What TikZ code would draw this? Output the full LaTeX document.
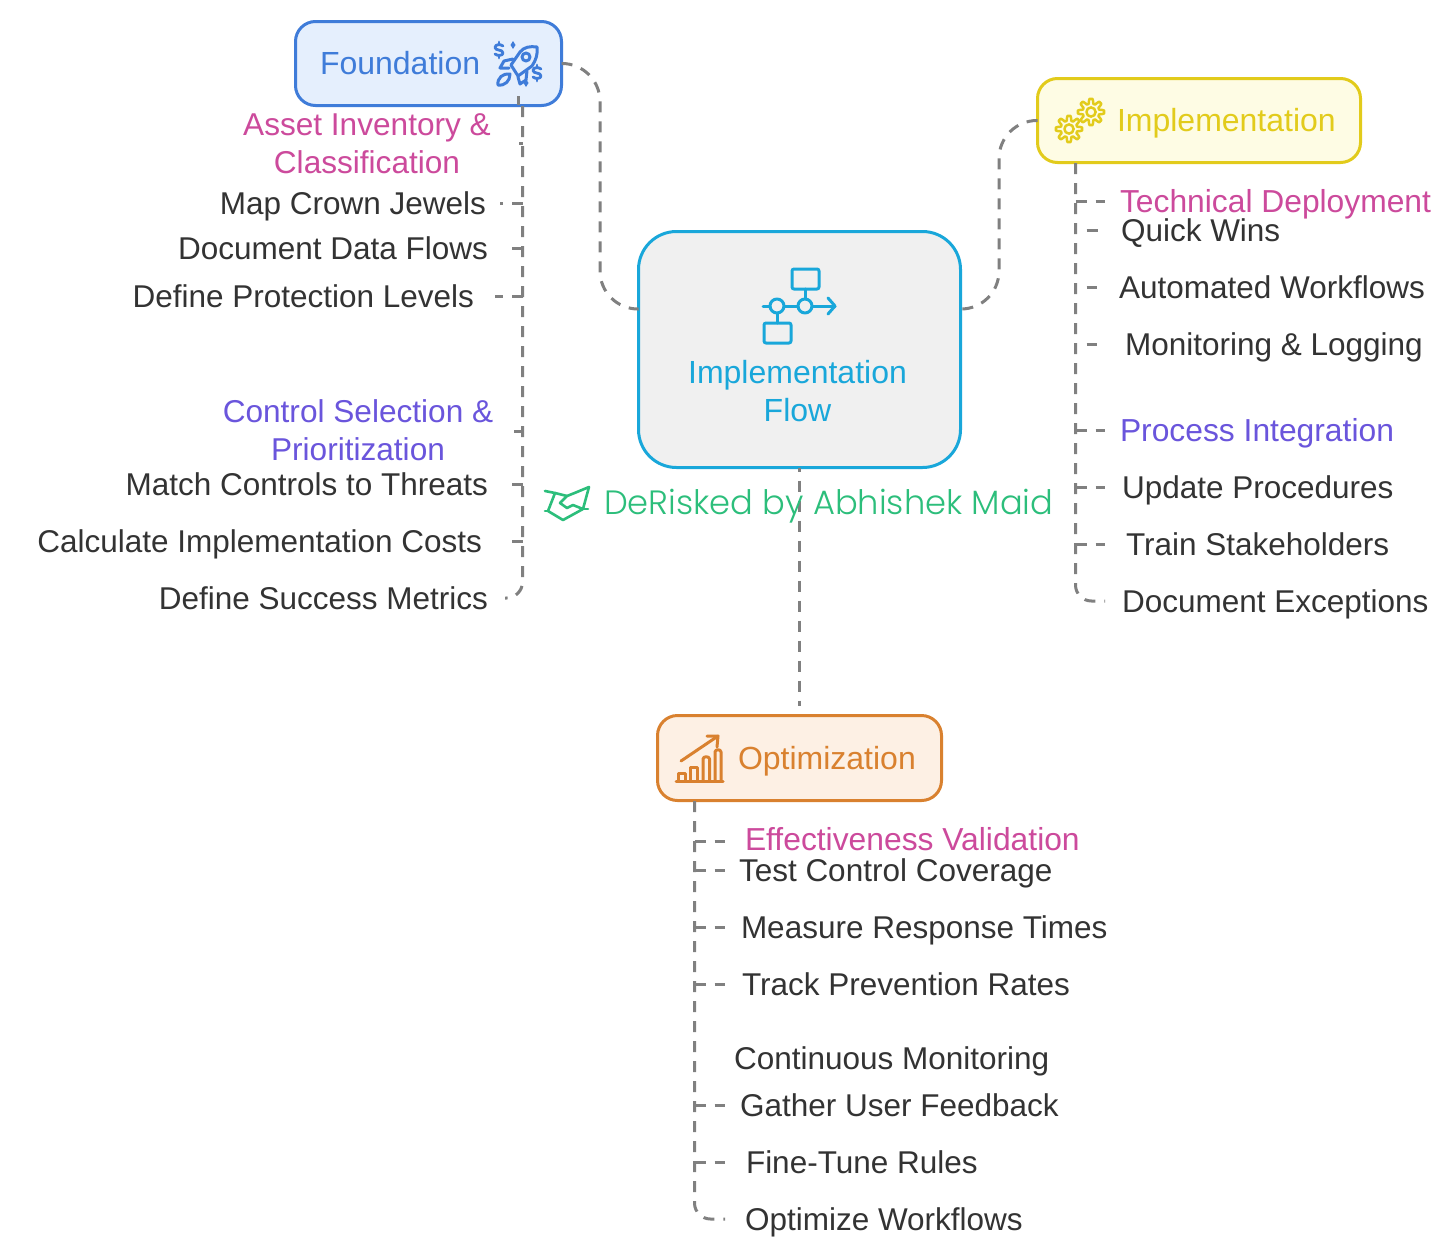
\documentclass[tikz,border=0pt]{standalone}
\usepackage{fontspec}
\setmainfont{Liberation Sans}
\newfontfamily\markfont{Poppins}[UprightFont=* Light]
\usetikzlibrary{arrows.meta}
\definecolor{inkdark}{HTML}{333333}
\definecolor{inkpink}{HTML}{CC4A9C}
\definecolor{inkviolet}{HTML}{6A55DC}
\definecolor{linegray}{HTML}{808080}
\definecolor{foundblue}{HTML}{3F7CD9}
\definecolor{foundfill}{HTML}{E5EFFD}
\definecolor{implyellow}{HTML}{E2CB1B}
\definecolor{implfill}{HTML}{FEFCE4}
\definecolor{flowcyan}{HTML}{19A7DA}
\definecolor{flowfill}{HTML}{F0F0F0}
\definecolor{optorange}{HTML}{D9812F}
\definecolor{optfill}{HTML}{FDF0E4}
\definecolor{markgreen}{HTML}{2CBE7B}
\tikzset{
  boxnode/.style={draw,line width=3,rounded corners=20,inner sep=0,outer sep=0},
  itemtext/.style={inner sep=0,outer sep=0,text=inkdark,font=\fontsize{31.5}{37}\selectfont,text height=24,text depth=1.5},
  headtext/.style={itemtext,text=#1,font=\fontsize{31.8}{37}\selectfont},
  boxtext/.style={itemtext,text=#1,font=\fontsize{32}{37}\selectfont},
  twolines/.style={inner sep=0,text=#1,align=center,font=\fontsize{31.6}{38}\selectfont},
  link/.style={draw=linegray,line width=3,dash pattern=on 11 off 9},
  icon/.style={line width=3,line join=round,line cap=round}
}
\newcommand{\gearicon}[3]{%
  \draw[icon,#3,line width=2.5] plot[domain=0:360,samples=145] ({#1+(10.8+2.4*min(1,max(-1,1.6*cos(8*\x))))*cos(\x)},{#2+(10.8+2.4*min(1,max(-1,1.6*cos(8*\x))))*sin(\x)}) -- cycle;
  \draw[icon,#3,line width=2.5] (#1,#2) circle (4.6);
}
\newcommand{\dollaricon}[2]{%
  \draw[icon,foundblue,line width=2.8] (#1+4,#2-4) .. controls (#1+2,#2-6) and (#1-4,#2-6) .. (#1-4,#2-2.5) .. controls (#1-4,#2+1) and (#1+4,#2-1) .. (#1+4,#2+3) .. controls (#1+4,#2+6) and (#1-2,#2+6) .. (#1-4,#2+4);
  \draw[icon,foundblue,line width=2.8] (#1,#2-8) -- (#1,#2-6) (#1,#2+6) -- (#1,#2+8);
}
\begin{document}
\begin{tikzpicture}[x=1pt,y=-1pt]
\useasboundingbox[fill=white] (0,0) rectangle (1456,1258);
% boxes
\node[boxnode,fill=foundfill,draw=foundblue,minimum width=266,minimum height=84] (found) at (428.5,63.5) {};
\node[boxnode,fill=implfill,draw=implyellow,minimum width=323,minimum height=84] (impl) at (1199,120.5) {};
\node[boxnode,fill=flowfill,draw=flowcyan,rounded corners=38,minimum width=322,minimum height=236] (central) at (799.5,349.5) {};
\node[boxnode,fill=optfill,draw=optorange,minimum width=284,minimum height=85] (optim) at (799.5,758) {};
\node[boxtext=foundblue,anchor=west] (foundlabel) at (320,63) {Foundation};
\node[boxtext=implyellow,anchor=west] (impllabel) at (1117,120) {Implementation};
\node[boxtext=optorange,anchor=west] (optimlabel) at (738,758) {Optimization};
\node[twolines=flowcyan,font=\fontsize{32}{37.5}\selectfont] (centrallabel) at (797.5,391) {Implementation\\Flow};
% left list
\node[twolines=inkpink] (assets) at (367,144) {Asset Inventory \&\\Classification};
\node[itemtext,anchor=east] (jewels) at (486,203) {Map Crown Jewels};
\node[itemtext,anchor=east] (dataflows) at (488,248) {Document Data Flows};
\node[itemtext,anchor=east] (levels) at (474,296) {Define Protection Levels};
\node[twolines=inkviolet] (controls) at (358,430) {Control Selection \&\\Prioritization};
\node[itemtext,anchor=east] (threats) at (488,484) {Match Controls to Threats};
\node[itemtext,anchor=east] (costs) at (482,541) {Calculate Implementation Costs};
\node[itemtext,anchor=east] (metrics) at (488,598) {Define Success Metrics};
% right list
\node[headtext=inkpink,anchor=west] (deploy) at (1120,201) {Technical Deployment};
\node[itemtext,anchor=west] (wins) at (1121,230) {Quick Wins};
\node[itemtext,anchor=west] (workflows) at (1119,287) {Automated Workflows};
\node[itemtext,anchor=west] (logging) at (1125,344) {Monitoring \& Logging};
\node[headtext=inkviolet,anchor=west] (process) at (1120,430) {Process Integration};
\node[itemtext,anchor=west] (procedures) at (1122,487) {Update Procedures};
\node[itemtext,anchor=west] (stakeholders) at (1126,544) {Train Stakeholders};
\node[itemtext,anchor=west] (exceptions) at (1122,601) {Document Exceptions};
% bottom list
\node[headtext=inkpink,anchor=west] (validate) at (745,839) {Effectiveness Validation};
\node[itemtext,anchor=west] (coverage) at (739,870) {Test Control Coverage};
\node[itemtext,anchor=west] (response) at (741,927) {Measure Response Times};
\node[itemtext,anchor=west] (prevention) at (742,984) {Track Prevention Rates};
\node[itemtext,anchor=west] (monitor) at (734,1058) {Continuous Monitoring};
\node[itemtext,anchor=west] (feedback) at (740,1105) {Gather User Feedback};
\node[itemtext,anchor=west] (rules) at (746,1162) {Fine-Tune Rules};
\node[itemtext,anchor=west] (optflows) at (745,1219) {Optimize Workflows};
% connectors between boxes
\coordinate (leftelbow) at (600,309);
\coordinate (rightelbow) at (999,309);
\coordinate (optimtop) at (799.5,706);
\draw[link,rounded corners=38] (found.east) -- (leftelbow |- found.east) -- (leftelbow) -- (central.west |- leftelbow);
\draw[link,rounded corners=38] (impl.west) -- (rightelbow |- impl.west) -- (rightelbow) -- (central.east |- rightelbow);
\draw[link,dash phase=7] (central.south -| optimtop) -- (optimtop);
% left trunk
\coordinate (leftbus) at (522.5,106);
\coordinate (rightbus) at (1075.5,163);
\coordinate (bottombus) at (694.5,801);
\draw[link,dash pattern=on 9 off 0] (518.5,96) -- (518.5,105);
\draw[link,rounded corners=16] (leftbus) -- (leftbus |- metrics) -- ([xshift=17]metrics.east);
\draw[link] (leftbus |- assets) ++(0,-1) -- ++(-4,0);
\draw[link,shorten >=14] (leftbus |- jewels) -- (jewels.east);
\draw[link,shorten >=17] (leftbus |- dataflows) -- (dataflows.east);
\draw[link,shorten >=21] (leftbus |- levels) -- (levels.east);
\draw[link] (leftbus |- controls) ++(0,1) -- ++(-9,0);
\draw[link,shorten >=22] (leftbus |- threats) -- (threats.east);
\draw[link,shorten >=29] (leftbus |- costs) -- (costs.east);
% right trunk
\draw[link,rounded corners=16] (rightbus) -- (rightbus |- exceptions) -- ([xshift=-17]exceptions.west);
\draw[link,shorten >=15] (rightbus |- deploy) -- (deploy.west);
\draw[link,shorten <=11,shorten >=23] (rightbus |- wins) -- (wins.west);
\draw[link,shorten <=11,shorten >=22] (rightbus |- workflows) -- (workflows.west);
\draw[link,shorten <=11,shorten >=28] (rightbus |- logging) -- (logging.west);
\draw[link,shorten >=15] (rightbus |- process) -- (process.west);
\draw[link,shorten >=17] (rightbus |- procedures) -- (procedures.west);
\draw[link,shorten >=21] (rightbus |- stakeholders) -- (stakeholders.west);
% bottom trunk
\draw[link,rounded corners=16] (bottombus) -- (bottombus |- optflows) -- ([xshift=-20]optflows.west);
\draw[link] (bottombus |- validate) ++(0,2) -- ++(30,0);
\draw[link,shorten >=14] (bottombus |- coverage) -- (coverage.west);
\draw[link,shorten >=16] (bottombus |- response) -- (response.west);
\draw[link,shorten >=17] (bottombus |- prevention) -- (prevention.west);
\draw[link,shorten >=15] (bottombus |- feedback) -- (feedback.west);
\draw[link,shorten >=21] (bottombus |- rules) -- (rules.west);
% foundation icon, rocket
\begin{scope}[icon,draw=foundblue]
  \draw (537,47) .. controls (530,46) and (524,47) .. (520,52) -- (511,65) -- (518,76) -- (532,66) .. controls (536,60) and (538,54) .. (537,47) -- cycle;
  \draw (526,57) circle (4);
  \draw (513,59) -- (504,61) -- (500,68) -- (509,68);
  \draw (527,71) -- (526,80) -- (520,84) -- (518,77);
  \draw (510,74) .. controls (503,73) and (497,78) .. (498,85) .. controls (505,86) and (510,81) .. (510,74) -- cycle;
  \fill[foundblue] (513,41) -- (515.5,45) -- (513,49) -- (510.5,45) -- cycle;
  \fill[foundblue] (526,79) ++(0,0) -- ++(2.5,4) -- ++(-2.5,4) -- ++(-2.5,-4) -- cycle;
\end{scope}
\dollaricon{499}{50}
\dollaricon{537}{73}
% implementation icon, gears
\gearicon{1091}{112}{implyellow}
\gearicon{1069}{129}{implyellow}
% central icon, flow
\begin{scope}[icon,draw=flowcyan]
  \draw[rounded corners=2] (792,269) rectangle (819,289);
  \draw[rounded corners=2] (764,323) rectangle (791,343);
  \draw (763,306) -- (770,306) (784,306) -- (798,306) (812,306) -- (835,306);
  \draw (828,298) -- (835,306) -- (828,314);
  \draw (777,306) circle (7) (805,306) circle (7);
  \draw (805,289) -- (805,299) (777,313) -- (777,323);
\end{scope}
% optimization icon, chart
\begin{scope}[icon,draw=optorange]
  \draw (676,781) -- (723,781);
  \draw (678.5,781) -- (678.5,773) -- (685,773) -- (685,781);
  \draw (690.5,781) -- (690.5,767) -- (697,767) -- (697,781);
  \draw (703,781) -- (703,759) .. controls (703,756) and (709.5,756) .. (709.5,759) -- (709.5,781);
  \draw (715,781) -- (715,752) .. controls (715,749) and (721,749) .. (721,752) -- (721,781);
  \draw (681,761) -- (718,736);
  \draw (707,736) -- (718,736) -- (717,747);
\end{scope}
% watermark
\begin{scope}[icon,draw=markgreen,line width=2.6]
  \draw (545,491) -- (555,493) -- (548,511) -- (563,520) -- (583,509) -- (589,487) -- (577,492) -- (567,496) -- (560,503) -- (567,508) -- (573,505) -- (583,509);
  \draw (555,493) -- (567,496);
  \draw (545,511) -- (548,511) (583,509) -- (588,509);
\end{scope}
\node[inner sep=0,text=markgreen,anchor=west,font=\fontsize{33.7}{40}\markfont] (wmark) at (604,506) {DeRisked by Abhishek Maid};
\end{tikzpicture}
\end{document}
